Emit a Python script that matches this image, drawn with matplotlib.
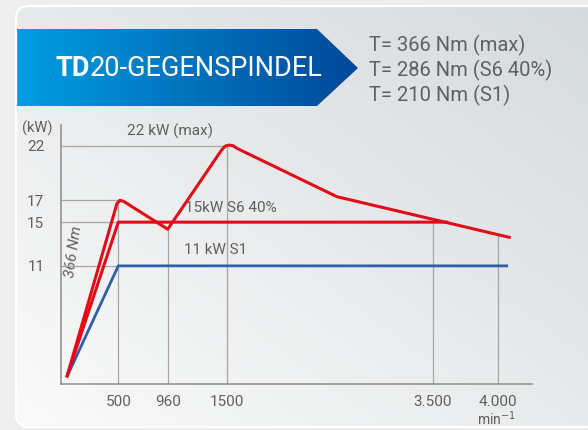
import numpy as np
import matplotlib
matplotlib.use("Agg")
import matplotlib.pyplot as plt
from matplotlib.patches import FancyBboxPatch, Polygon

plt.rcParams["font.family"] = ["Roboto", "DejaVu Sans"]

# power curves (rpm -> kW)
s1_rpm = [0, 500, 4080]
s1_kw = [0.8, 11, 11]
s6_rpm = [0, 500, 3620]
s6_kw = [0.8, 15, 15]
max_rpm = [0, 487, 515, 550, 960, 1450, 1485, 1520, 1560, 1600, 2570, 4100]
max_kw = [0.8, 16.7, 17.0, 16.9, 14.35, 21.55, 21.95, 22.05, 22.0, 21.75, 17.33, 13.58]

x_ticks = [500, 960, 1500, 3500, 4000]
x_labels = ["500", "960", "1500", "3.500", "4.000"]
y_ticks = [11, 15, 17, 22]

torque_lines = ["T= 366 Nm (max)", "T= 286 Nm (S6 40%)", "T= 210 Nm (S1)"]

RED = "#e30b17"
BLUE = "#2f5fa9"
GRID = "#a6a6a6"
TXT = "#606060"

W, H = 588, 430
fig = plt.figure(figsize=(W / 100, H / 100), dpi=100)
fig.patch.set_facecolor("#eeeeee")

# background panel + banner, drawn in pixel coordinates
bg = fig.add_axes([0, 0, 1, 1], zorder=-1)
bg.set_xlim(0, W)
bg.set_ylim(H, 0)
bg.axis("off")

yy, xx = np.mgrid[0:H, 0:W]
u = (xx / W + (1 - yy / H)) / 2
c0 = np.array([0.985, 0.985, 0.985])
c1 = np.array([0.835, 0.855, 0.865])
grad = c0 + (c1 - c0) * u[..., None]
panel = FancyBboxPatch((16, 6), 640, 421, boxstyle="round,pad=0,rounding_size=13",
                       fc="none", ec="white", lw=1.6)
bg.add_patch(panel)
im = bg.imshow(grad, extent=[0, W, H, 0], interpolation="bilinear")
im.set_clip_path(panel)

ban = Polygon([(16, 29), (317, 29), (358, 68), (317, 106), (16, 106)], closed=True,
              fc="none", ec="none")
bg.add_patch(ban)
t = np.linspace(0, 1, 400)
left = np.array([0.0, 0.62, 0.88])
right = np.array([0.0, 0.28, 0.60])
bgrad = (left + (right - left) * t[:, None])[None, :, :]
bim = bg.imshow(bgrad, extent=[16, 358, 106, 29], aspect="auto", interpolation="bilinear")
bim.set_clip_path(ban)

title = bg.text(55, 68.5, "TD", color="white", fontsize=19.5, fontweight="bold",
                va="center", ha="left")
bg.annotate("20-GEGENSPINDEL", xy=(1, 0.5), xycoords=title, color="white",
            fontsize=19.5, va="center", ha="left")

for i, line in enumerate(torque_lines):
    bg.text(369, 45.5 + i * 25, line, color=TXT, fontsize=14.5, va="center", ha="left")

# main chart
x0, x1 = 61, 531.7
y0, y1 = 384.3, 125
ax = fig.add_axes([x0 / W, (H - y0) / H, (x1 - x0) / W, (y0 - y1) / H])
ax.patch.set_alpha(0)

# rpm -> pixel mapping of the drawing (axis is not quite linear)
k_rpm = [-1000, 0, 500, 960, 1500, 3500, 4000, 6000]
k_px = [-36.3, 66.7, 118.3, 167.7, 226.7, 432.7, 497.7, 757.7]


def fwd(v):
    return np.interp(v, k_rpm, k_px)


def inv(v):
    return np.interp(v, k_px, k_rpm)


ax.set_xscale("function", functions=(fwd, inv))
ax.set_xlim(inv(x0), inv(x1))
ylo = (386.1 - y0) / 10.93
ax.set_ylim(ylo, (386.1 - y1) / 10.93)

# partial grid lines
xl = ax.get_xlim()[0]
ax.hlines(22, xl, 1500, color=GRID, lw=0.9, zorder=1)
for v in [17, 15, 11]:
    ax.hlines(v, xl, 500, color=GRID, lw=0.9, zorder=1)
for v, top in [(500, 17.0), (960, 14.35), (1500, 22.0), (3500, 15),
               (4000, np.interp(4000, max_rpm, max_kw))]:
    ax.vlines(v, ylo, top, color=GRID, lw=0.9, zorder=1)

ax.plot(s1_rpm, s1_kw, color=BLUE, lw=2.0, solid_capstyle="butt", zorder=3)
ax.plot(s6_rpm, s6_kw, color=RED, lw=2.2, solid_capstyle="butt", zorder=3)
ax.plot(max_rpm, max_kw, color=RED, lw=2.2, solid_capstyle="butt",
        solid_joinstyle="round", zorder=3)

for s in ["top", "right"]:
    ax.spines[s].set_visible(False)
for s in ["left", "bottom"]:
    ax.spines[s].set_color("#8c8c8c")
    ax.spines[s].set_linewidth(1.1)

ax.set_xticks(x_ticks, x_labels)
ax.set_yticks(y_ticks)
ax.minorticks_off()
ax.tick_params(axis="x", length=0, pad=8, labelsize=11, labelcolor=TXT)
ax.tick_params(axis="y", length=0, pad=12, labelsize=11, labelcolor=TXT)

bg.text(37, 128, "(kW)", color=TXT, fontsize=10.5, ha="center", va="center")
bg.text(496, 419, "min$^{-1}$", color=TXT, fontsize=10, ha="center", va="center")
bg.text(170, 131, "22 kW (max)", color=TXT, fontsize=11, ha="center", va="center")
bg.text(185, 208, "15kW S6 40%", color=TXT, fontsize=11, ha="left", va="center")
bg.text(184, 250, "11 kW S1", color=TXT, fontsize=11, ha="left", va="center")
bg.text(74, 252, "366 Nm", color=TXT, fontsize=11, ha="center", va="center",
        rotation=82, style="italic")

fig.savefig("out.png", dpi=100)
